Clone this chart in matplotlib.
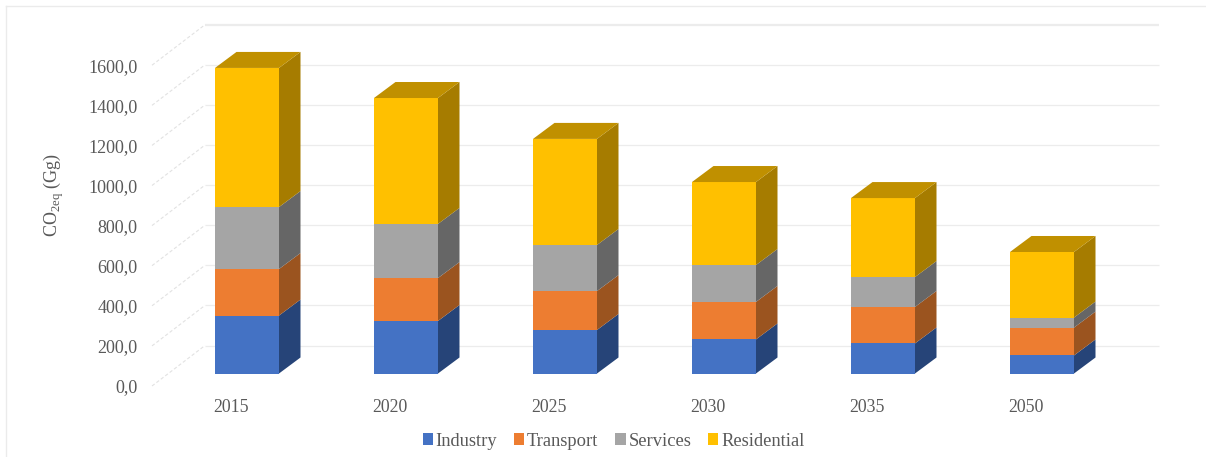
import matplotlib
matplotlib.use("Agg")
import matplotlib.pyplot as plt
from matplotlib.lines import Line2D
from matplotlib.patches import Polygon, Patch

plt.rcParams['font.family'] = ['Liberation Serif', 'DejaVu Serif']
plt.rcParams['mathtext.fontset'] = 'custom'
plt.rcParams['mathtext.rm'] = 'Liberation Serif'

years = ['2015', '2020', '2025', '2030', '2035', '2050']
industry = [289, 262, 217, 170, 150, 90]
transport = [232, 214, 194, 187, 182, 139]
services = [309, 270, 230, 184, 149, 50]
residential = [694, 628, 529, 414, 394, 327]
series_names = ['Industry', 'Transport', 'Services', 'Residential']
series_values = [industry, transport, services, residential]
y_ticks = [0, 200, 400, 600, 800, 1000, 1200, 1400, 1600]

front_colors = ['#4472C4', '#ED7D31', '#A5A5A5', '#FFC000']
side_colors = ['#264478', '#9B541F', '#666666', '#A67C00']
top_color = '#C09000'
text_color = '#595959'
grid_color = '#ECECEC'

W, H = 1206, 457
PX_LEFT, PX_RIGHT, PX_BOTTOM, PX_TOP = 152, 1159, 386, 24
PX_PER_CAT, PX_PER_VAL = 159, 0.2005
PX_CENTER0 = 247
BAR_W = 64 / PX_PER_CAT
DX, DY = 21.5 / PX_PER_CAT, 16 / PX_PER_VAL
BASE = (PX_BOTTOM - 373.5) / PX_PER_VAL      # floor position of the bars
WALL = (PX_BOTTOM - 345.5) / PX_PER_VAL      # rise of the back wall over the front edge
WALL_X = (205 - PX_CENTER0) / PX_PER_CAT
LABEL_SHIFT = 16 / PX_PER_CAT

fig = plt.figure(figsize=(W / 100, H / 100), dpi=100, facecolor='white')
ax = fig.add_axes([PX_LEFT / W, (H - PX_BOTTOM) / H,
                   (PX_RIGHT - PX_LEFT) / W, (PX_BOTTOM - PX_TOP) / H])
ax.set_xlim((PX_LEFT - PX_CENTER0) / PX_PER_CAT, (PX_RIGHT - PX_CENTER0) / PX_PER_CAT)
ax.set_ylim(0, (PX_BOTTOM - PX_TOP) / PX_PER_VAL)
for s in ax.spines.values():
    s.set_visible(False)

# wall gridlines and floor dashes
x0, x1 = ax.get_xlim()
for v in y_ticks:
    ax.plot([WALL_X, x1], [v + WALL, v + WALL], color=grid_color,
            lw=1.6 if v == y_ticks[-1] else 0.9, zorder=1, clip_on=False,
            solid_capstyle='butt')
    ax.plot([x0, WALL_X], [v, v + WALL], color='#E2E2E2', lw=0.8,
            ls=(0, (3, 2)), zorder=1, clip_on=False)

# bars: front faces, side faces and top
xpos = list(range(len(years)))
for i, x in enumerate(xpos):
    bottom = BASE
    left, right = x - BAR_W / 2, x + BAR_W / 2
    for k, vals in enumerate(series_values):
        top = bottom + vals[i]
        ax.bar(x, vals[i], BAR_W, bottom=bottom, color=front_colors[k], lw=0, zorder=3)
        ax.add_patch(Polygon([(right, bottom), (right + DX, bottom + DY),
                              (right + DX, top + DY), (right, top)],
                             closed=True, fc=side_colors[k], lw=0, zorder=3))
        bottom = top
    ax.add_patch(Polygon([(left, bottom), (left + DX, bottom + DY),
                          (right + DX, bottom + DY), (right, bottom)],
                         closed=True, fc=top_color, lw=0, zorder=3))

# axes text
ax.set_yticks(y_ticks, [f'{v:.1f}'.replace('.', ',') for v in y_ticks])
ax.set_xticks([x - LABEL_SHIFT for x in xpos], years)
ax.tick_params(axis='y', length=0, pad=10.5, labelsize=13, labelcolor=text_color)
ax.tick_params(axis='x', length=0, pad=9, labelsize=12.8, labelcolor=text_color)
ax.set_ylabel(r'CO$_{\mathrm{2eq}}$ (Gg)', fontsize=13, color=text_color)
ax.yaxis.set_label_coords((66 - PX_LEFT) / (PX_RIGHT - PX_LEFT),
                          (PX_BOTTOM - 195) / (PX_BOTTOM - PX_TOP))

handles = [Patch(fc=c, lw=0) for c in front_colors]
fig.legend(handles, series_names, ncol=4, frameon=False, fontsize=13.3,
           labelcolor=text_color, loc='center',
           bbox_to_anchor=(613.5 / W, (H - 441) / H),
           handlelength=0.55, handleheight=0.55, handletextpad=0.15, columnspacing=0.92,
           borderpad=0, borderaxespad=0)

# chart frame
fig.add_artist(Line2D([6 / W, 6 / W], [0, (H - 6) / H], color='#EBEBEB', lw=1,
                      transform=fig.transFigure))
fig.add_artist(Line2D([6 / W, 1], [(H - 6) / H, (H - 6) / H], color='#EBEBEB', lw=1,
                      transform=fig.transFigure))

fig.savefig('out.png', dpi=100, facecolor='white')
